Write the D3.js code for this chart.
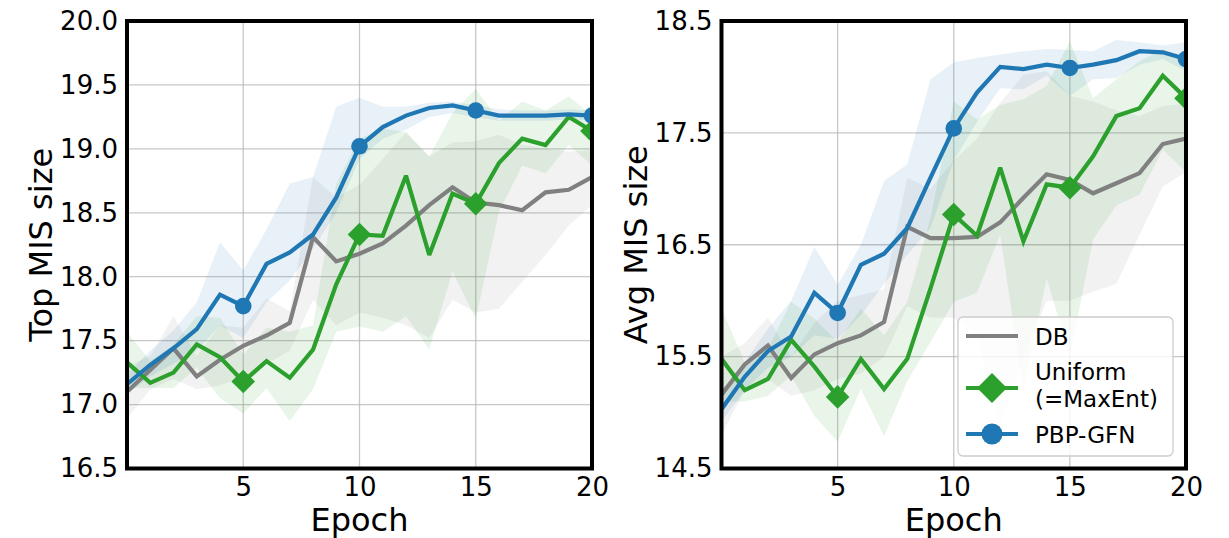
<!DOCTYPE html>
<html>
<head>
<meta charset="utf-8">
<script src="https://cdn.jsdelivr.net/npm/d3@7"></script>
<style>
  body { margin: 0; background: #fff; }
  svg { display: block; font-family: "DejaVu Sans", sans-serif; }
</style>
</head>
<body>
<svg id="chart" width="1229" height="538"></svg>
<script>
// ---- data ----
const epochs = [0,1,2,3,4,5,6,7,8,9,10,11,12,13,14,15,16,17,18,19,20];
const xTicks = [5, 10, 15, 20];
const seriesNames = ["DB", "Uniform\n(=MaxEnt)", "PBP-GFN"];

// Top MIS size
const topDB     = [17.10,17.27,17.44,17.22,17.35,17.46,17.54,17.64,18.31,18.12,18.18,18.26,18.40,18.56,18.70,18.58,18.56,18.52,18.66,18.68,18.78];
const topDBLo   = [16.89,17.12,17.20,17.12,17.15,17.22,17.32,17.42,17.82,17.62,17.72,17.68,17.62,17.52,17.82,17.72,17.75,17.96,18.17,18.40,18.56];
const topDBHi   = [17.30,17.38,17.69,17.38,17.62,17.60,17.83,17.73,18.78,18.62,18.72,18.92,19.13,18.94,19.05,19.06,19.11,19.03,19.00,18.98,18.99];
const topUni    = [17.33,17.17,17.25,17.47,17.37,17.18,17.34,17.21,17.43,17.94,18.33,18.32,18.79,18.17,18.65,18.57,18.89,19.08,19.03,19.25,19.14];
const topUniLo  = [17.13,17.13,17.13,17.29,17.05,16.93,17.13,16.87,17.12,17.57,17.61,17.57,17.69,17.43,18.04,17.67,18.51,18.87,18.81,19.03,18.87];
const topUniHi  = [17.57,17.34,17.47,17.69,17.68,17.39,17.60,17.57,17.62,18.73,19.08,19.16,19.13,18.94,19.28,19.47,19.22,19.37,19.30,19.41,19.26];
const topPBP    = [17.16,17.31,17.44,17.59,17.86,17.77,18.10,18.19,18.33,18.62,19.02,19.17,19.26,19.32,19.34,19.30,19.26,19.26,19.26,19.27,19.26];
const topPBPLo  = [17.08,17.22,17.32,17.42,17.62,17.52,17.80,17.97,18.22,18.50,18.92,19.08,19.15,19.25,19.28,19.25,19.22,19.22,19.22,19.23,19.22];
const topPBPHi  = [17.24,17.42,17.58,17.80,18.27,18.05,18.37,18.73,18.78,19.33,19.40,19.33,19.33,19.36,19.37,19.34,19.31,19.30,19.30,19.31,19.30];
const topYTicks = [16.5, 17.0, 17.5, 18.0, 18.5, 19.0, 19.5, 20.0];

// Avg MIS size
const avgDB     = [15.16,15.43,15.60,15.31,15.52,15.62,15.69,15.81,16.66,16.56,16.56,16.57,16.70,16.92,17.13,17.08,16.96,17.05,17.14,17.40,17.45];
const avgDBLo   = [14.80,15.20,15.30,15.15,15.20,15.30,15.35,15.50,15.95,15.85,15.85,15.70,14.90,15.50,16.00,16.00,16.08,16.15,16.59,17.02,17.15];
const avgDBHi   = [15.50,15.62,15.85,15.50,15.80,16.00,16.05,16.10,17.10,17.00,17.25,17.45,17.77,18.02,18.05,17.83,17.78,17.70,17.65,17.74,17.76];
const avgUni    = [15.48,15.20,15.30,15.65,15.41,15.14,15.48,15.21,15.48,16.11,16.77,16.58,17.19,16.53,17.04,17.01,17.29,17.65,17.72,18.01,17.81];
const avgUniLo  = [15.10,15.10,15.15,15.33,14.97,14.74,15.21,14.79,15.28,15.63,15.99,16.07,16.59,15.20,16.20,15.50,16.55,16.85,16.95,17.35,17.15];
const avgUniHi  = [15.93,15.45,15.57,15.99,15.84,15.63,15.93,15.69,15.99,16.74,17.78,17.62,17.75,17.80,17.92,18.32,17.81,17.98,18.14,18.25,18.14];
const avgPBP    = [15.03,15.32,15.55,15.68,16.07,15.89,16.32,16.42,16.65,17.10,17.54,17.86,18.09,18.07,18.11,18.08,18.11,18.15,18.23,18.22,18.16];
const avgPBPLo  = [14.92,15.20,15.40,15.50,15.69,15.66,15.87,16.15,16.41,16.65,17.25,17.60,17.90,17.89,18.01,17.83,17.98,17.99,18.11,18.16,18.05];
const avgPBPHi  = [15.15,15.45,15.75,16.00,16.48,16.14,16.50,17.07,17.22,17.98,18.13,18.17,18.20,18.23,18.25,18.24,18.23,18.33,18.31,18.28,18.31];
const avgYTicks = [14.5, 15.5, 16.5, 17.5, 18.5];

// ---- styling ----
const colors = { db: "#808080", uni: "#2ca02c", pbp: "#1f77b4" };

const svg = d3.select("#chart");
const plotTop = 21, plotBottom = 468.5;

const panels = [
  {
    id: "top", x0: 127, x1: 592, yDomain: [16.5, 20.0], yTicks: topYTicks,
    yFormat: d3.format(".1f"), label: "Top MIS size", legend: false,
    series: [
      { key: "db",  mean: topDB,  lo: topDBLo,  hi: topDBHi,  marker: null },
      { key: "uni", mean: topUni, lo: topUniLo, hi: topUniHi, marker: "diamond" },
      { key: "pbp", mean: topPBP, lo: topPBPLo, hi: topPBPHi, marker: "circle" }
    ]
  },
  {
    id: "avg", x0: 721.5, x1: 1186, yDomain: [14.5, 18.5], yTicks: avgYTicks,
    yFormat: d3.format(".1f"), label: "Avg MIS size", legend: true,
    series: [
      { key: "db",  mean: avgDB,  lo: avgDBLo,  hi: avgDBHi,  marker: null },
      { key: "uni", mean: avgUni, lo: avgUniLo, hi: avgUniHi, marker: "diamond" },
      { key: "pbp", mean: avgPBP, lo: avgPBPLo, hi: avgPBPHi, marker: "circle" }
    ]
  }
];

const diamondPath = (r) => `M0,${-r}L${r},0L0,${r}L${-r},0Z`;

function drawMarker(g, type, x, y, color, size) {
  if (type === "circle") {
    g.append("circle").attr("cx", x).attr("cy", y).attr("r", size).attr("fill", color);
  } else if (type === "diamond") {
    g.append("path").attr("d", diamondPath(size * 1.42))
      .attr("transform", `translate(${x},${y})`).attr("fill", color);
  }
}

panels.forEach(p => {
  const x = d3.scaleLinear().domain([0, 20]).range([p.x0, p.x1]);
  const y = d3.scaleLinear().domain(p.yDomain).range([plotBottom, plotTop]);
  const g = svg.append("g").attr("class", "panel-" + p.id);

  const clipId = "clip-" + p.id;
  g.append("clipPath").attr("id", clipId).append("rect")
    .attr("x", p.x0).attr("y", plotTop).attr("width", p.x1 - p.x0).attr("height", plotBottom - plotTop);

  // grid
  const grid = g.append("g").attr("class", "grid");
  grid.selectAll("line.gx").data(xTicks).join("line")
    .attr("x1", d => x(d)).attr("x2", d => x(d))
    .attr("y1", plotTop).attr("y2", plotBottom)
    .attr("stroke", "#b0b0b0").attr("stroke-opacity", 0.7).attr("stroke-width", 1.3);
  grid.selectAll("line.gy").data(p.yTicks).join("line")
    .attr("x1", p.x0).attr("x2", p.x1)
    .attr("y1", d => y(d)).attr("y2", d => y(d))
    .attr("stroke", "#b0b0b0").attr("stroke-opacity", 0.7).attr("stroke-width", 1.3);

  const plot = g.append("g").attr("clip-path", `url(#${clipId})`);

  // shaded spread
  p.series.forEach(s => {
    const area = d3.area()
      .x((d, i) => x(epochs[i]))
      .y0((d, i) => y(s.lo[i]))
      .y1((d, i) => y(s.hi[i]));
    plot.append("path").datum(s.mean).attr("d", area)
      .attr("fill", colors[s.key]).attr("fill-opacity", 0.1);
  });

  // mean lines with markers every 5 epochs
  p.series.forEach(s => {
    const line = d3.line().x((d, i) => x(epochs[i])).y(d => y(d));
    plot.append("path").datum(s.mean).attr("d", line)
      .attr("fill", "none").attr("stroke", colors[s.key])
      .attr("stroke-width", 4.2).attr("stroke-linejoin", "miter").attr("stroke-miterlimit", 3);
    if (s.marker) {
      epochs.forEach((e, i) => {
        if (e > 0 && e % 5 === 0) {
          drawMarker(plot, s.marker, x(e), y(s.mean[i]), colors[s.key], 8.3);
        }
      });
    }
  });

  // axes (tick labels only)
  const xAxis = d3.axisBottom(x).tickValues(xTicks).tickSize(0).tickPadding(9).tickFormat(d3.format("d"));
  const gx = g.append("g").attr("transform", `translate(0,${plotBottom})`).call(xAxis);
  gx.select(".domain").remove();
  gx.selectAll("text").attr("font-size", 26).attr("fill", "#000")
    .attr("font-family", "DejaVu Sans, sans-serif");

  const yAxis = d3.axisLeft(y).tickValues(p.yTicks).tickSize(0).tickPadding(9).tickFormat(p.yFormat);
  const gy = g.append("g").attr("transform", `translate(${p.x0},0)`).call(yAxis);
  gy.select(".domain").remove();
  gy.selectAll("text").attr("font-size", 26).attr("fill", "#000")
    .attr("font-family", "DejaVu Sans, sans-serif");

  // frame
  g.append("rect").attr("x", p.x0).attr("y", plotTop)
    .attr("width", p.x1 - p.x0).attr("height", plotBottom - plotTop)
    .attr("fill", "none").attr("stroke", "#000").attr("stroke-width", 4);

  // axis titles
  g.append("text").attr("x", (p.x0 + p.x1) / 2).attr("y", 531)
    .attr("text-anchor", "middle").attr("font-size", 32).text("Epoch");
  g.append("text")
    .attr("transform", `translate(${p.x0 - 75},${(plotTop + plotBottom) / 2}) rotate(-90)`)
    .attr("text-anchor", "middle").attr("font-size", 32).text(p.label);

  // legend
  if (p.legend) {
    const lx = 958, ly = 317, lw = 215, lh = 139;
    const lg = g.append("g").attr("class", "legend");
    lg.append("rect").attr("x", lx).attr("y", ly).attr("width", lw).attr("height", lh)
      .attr("rx", 5).attr("fill", "#fff").attr("fill-opacity", 0.8)
      .attr("stroke", "#cccccc").attr("stroke-width", 1.3);
    const rows = [
      { key: "db",  marker: null,      lineY: 336, baseY: 345 },
      { key: "uni", marker: "diamond", lineY: 388, baseY: 380 },
      { key: "pbp", marker: "circle",  lineY: 434, baseY: 443 }
    ];
    rows.forEach((r, k) => {
      lg.append("line").attr("x1", 966).attr("x2", 1018)
        .attr("y1", r.lineY).attr("y2", r.lineY)
        .attr("stroke", colors[r.key]).attr("stroke-width", 4.2);
      if (r.marker) drawMarker(lg, r.marker, 992, r.lineY, colors[r.key], 10.5);
      seriesNames[k].split("\n").forEach((part, j) => {
        lg.append("text").attr("x", 1035).attr("y", r.baseY + j * 27)
          .attr("font-size", 23).attr("fill", "#000").text(part);
      });
    });
  }
});
</script>
</body>
</html>
